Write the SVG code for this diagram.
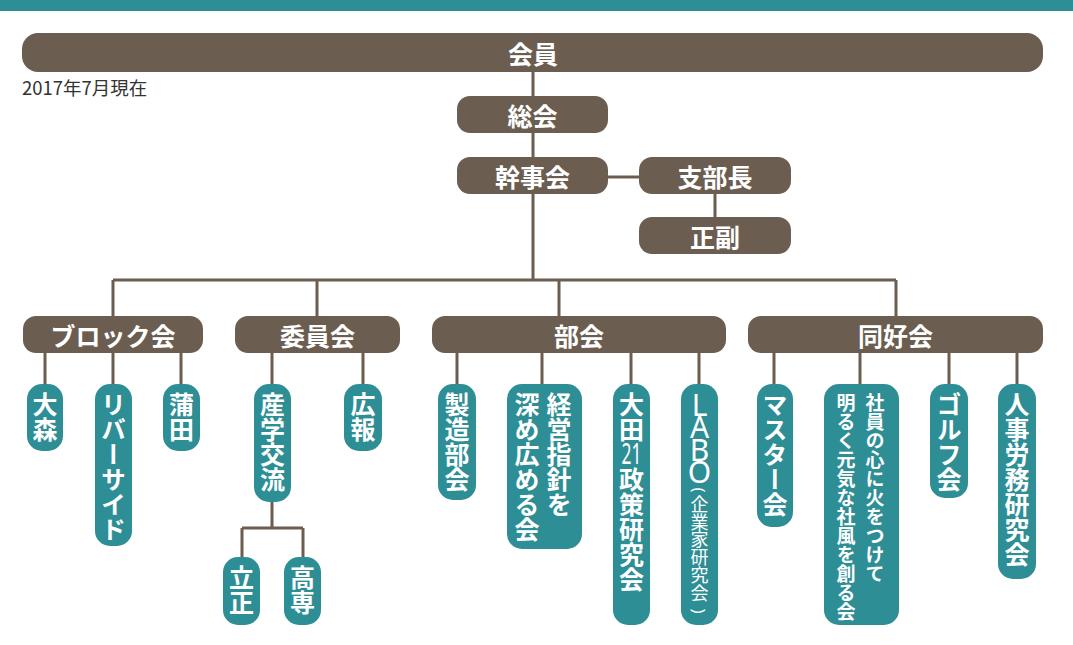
<svg xmlns="http://www.w3.org/2000/svg" width="1073" height="645" viewBox="0 0 1073 645">
<style>
.b{fill:#6b5e51}
.t{fill:#2e8e96}
.c{stroke:#6b5e51;stroke-width:3;fill:none}
.h{font-family:"Noto Sans CJK JP","Noto Sans",sans-serif;font-weight:700;font-size:25px;fill:#fff;text-anchor:middle;dominant-baseline:central}
.v{font-family:"Noto Sans CJK JP","Noto Sans",sans-serif;font-weight:700;font-size:25px;fill:#fff;writing-mode:vertical-rl}
.s{font-size:19px}
.l{font-family:"Noto Sans","Noto Sans CJK JP",sans-serif;font-weight:400;fill:#fff;text-anchor:middle}
.n{font-family:"Noto Sans CJK JP","Noto Sans",sans-serif;font-weight:400;font-size:18px;fill:#fff}
</style>
<rect x="0" y="0" width="1073" height="11" class="t"/>
<g id="connectors">
<path class="c" d="M533 72V96M533 133V157M608 177H639M715 194V217M533 194V280M113 280H896M113 280V316M317 280V316M559 280V316M896 280V316"/>
<path class="c" d="M45 353V384M113 353V384M181 353V384M272 353V384M363 353V384M272 502V528M242 528H303M242 528V557M303 528V557"/>
<path class="c" d="M457 353V384M542 353V384M631 353V384M699 353V384M774 353V384M860 353V384M949 353V384M1017 353V384"/>
</g>
<g id="kaiin"><rect x="22" y="33" width="1021" height="39" rx="16" class="b"/><text x="533" y="52.5" class="h">会員</text></g>
<text x="22" y="95" font-family="'Noto Sans CJK JP','Noto Sans',sans-serif" font-size="18.5" fill="#333">2017年7月現在</text>
<g id="sokai"><rect x="457" y="96" width="151" height="37" rx="13" class="b"/><text x="532.5" y="114.5" class="h">総会</text></g>
<g id="kanjikai"><rect x="457" y="157" width="151" height="37" rx="13" class="b"/><text x="532.5" y="175.5" class="h">幹事会</text></g>
<g id="shibucho"><rect x="639" y="157" width="152" height="37" rx="13" class="b"/><text x="715" y="175.5" class="h">支部長</text></g>
<g id="seifuku"><rect x="639" y="217" width="152" height="37" rx="13" class="b"/><text x="715" y="235.5" class="h">正副</text></g>
<g id="block"><rect x="23" y="316" width="180" height="37" rx="13" class="b"/><text x="113" y="334.5" class="h">ブロック会</text></g>
<g id="iinkai"><rect x="235" y="316" width="165" height="37" rx="13" class="b"/><text x="317.5" y="334.5" class="h">委員会</text></g>
<g id="bukai"><rect x="432" y="316" width="294" height="37" rx="13" class="b"/><text x="579" y="334.5" class="h">部会</text></g>
<g id="dokokai"><rect x="748" y="316" width="295" height="37" rx="13" class="b"/><text x="895.5" y="334.5" class="h">同好会</text></g>
<g id="omori"><rect x="27" y="384" width="36" height="67" rx="15" class="t"/><text x="45" y="392" class="v">大森</text></g>
<g id="riverside"><rect x="95" y="384" width="37" height="162" rx="15" class="t"/><text x="113.5" y="392" class="v">リバーサイド</text></g>
<g id="kamata"><rect x="163" y="384" width="37" height="67" rx="15" class="t"/><text x="181.5" y="392" class="v">蒲田</text></g>
<g id="sangaku"><rect x="254" y="384" width="37" height="118" rx="15" class="t"/><text x="272.5" y="392" class="v">産学交流</text></g>
<g id="koho"><rect x="344" y="384" width="38" height="67" rx="15" class="t"/><text x="363" y="392" class="v">広報</text></g>
<g id="rissho"><rect x="223" y="557" width="37" height="68" rx="15" class="t"/><text x="241.5" y="565" class="v">立正</text></g>
<g id="kosen"><rect x="284" y="557" width="37" height="68" rx="15" class="t"/><text x="302.5" y="565" class="v">高専</text></g>
<g id="seizo"><rect x="438" y="384" width="38" height="116" rx="15" class="t"/><text x="457" y="392" class="v">製造部会</text></g>
<g id="keiei"><rect x="507" y="384" width="75" height="165" rx="15" class="t"/><text x="559" y="392" class="v">経営指針を</text><text x="527" y="392" class="v">深め広める会</text></g>
<g id="ota21"><rect x="613" y="384" width="37" height="241" rx="15" class="t"/><text x="631.5" y="392" class="v">大田</text><text x="631.5" y="463.5" class="l" font-size="29" font-weight="500" textLength="20" lengthAdjust="spacingAndGlyphs">21</text><text x="631.5" y="467" class="v">政策研究会</text></g>
<g id="labo"><rect x="681" y="384" width="37" height="241" rx="15" class="t"/>
<text x="699.5 699.5 699.5 699.5" y="416 438 461 483" class="l" font-size="30">LABO</text>
<text transform="translate(699.5 490) rotate(90)" class="l" font-size="17" dominant-baseline="central">(</text>
<text x="699.5" y="495" class="n" style="writing-mode:vertical-rl;letter-spacing:-0.2px">企業家研究会</text>
<text transform="translate(699.5 611) rotate(90)" class="l" font-size="17" dominant-baseline="central">)</text></g>
<g id="master"><rect x="757" y="384" width="36" height="143" rx="15" class="t"/><text x="775" y="392" class="v">マスター会</text></g>
<g id="shain"><rect x="824" y="384" width="75" height="241" rx="15" class="t"/><text x="875" y="393" class="v s">社員の心に火をつけて</text><text x="846" y="393" class="v s">明るく元気な社風を創る会</text></g>
<g id="golf"><rect x="930" y="384" width="38" height="114" rx="15" class="t"/><text x="949" y="392" class="v">ゴルフ会</text></g>
<g id="jinji"><rect x="998" y="384" width="38" height="195" rx="15" class="t"/><text x="1017" y="392" class="v">人事労務研究会</text></g>
</svg>
